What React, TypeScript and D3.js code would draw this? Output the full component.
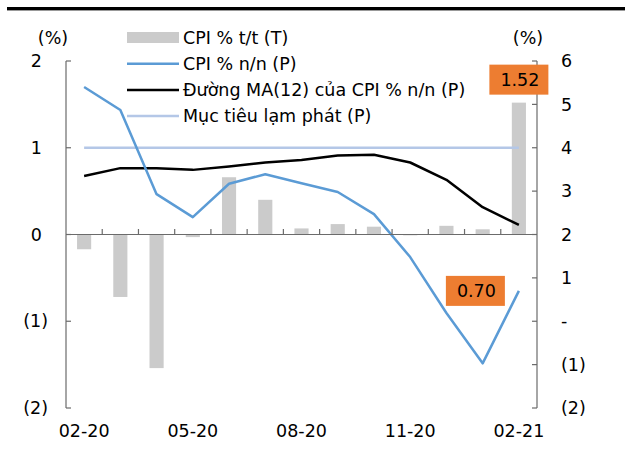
import React from "react";
import * as d3 from "d3";

// Months shown on the category axis
const months = [
  "02-20", "03-20", "04-20", "05-20", "06-20", "07-20", "08-20",
  "09-20", "10-20", "11-20", "12-20", "01-21", "02-21",
];
const tickMonths = ["02-20", "05-20", "08-20", "11-20", "02-21"];

// CPI % month-on-month (left axis, bars)
const cpiMoM = [-0.17, -0.72, -1.54, -0.03, 0.66, 0.4, 0.07, 0.12, 0.09, -0.01, 0.1, 0.06, 1.52];
// CPI % year-on-year (right axis)
const cpiYoY = [5.4, 4.87, 2.93, 2.4, 3.17, 3.39, 3.18, 2.98, 2.47, 1.48, 0.19, -0.97, 0.7];
// 12-month moving average of CPI % y/y (right axis)
const cpiMA12 = [3.35, 3.53, 3.53, 3.49, 3.57, 3.66, 3.72, 3.82, 3.84, 3.66, 3.26, 2.63, 2.22];
// Inflation target (right axis)
const target = 4;

const leftTicks = [2, 1, 0, -1, -2];
const rightTicks = [6, 5, 4, 3, 2, 1, 0, -1, -2];

const legendLabels = [
  "CPI % t/t (T)",
  "CPI % n/n (P)",
  "Đường MA(12) của CPI % n/n (P)",
  "Mục tiêu lạm phát (P)",
];

const FONT = "'DejaVu Sans', Verdana, sans-serif";
const FS = 17.5;
const AXIS = "#6b6b6b";
const BAR = "#cbcbcb";
const BLUE = "#5b9bd5";
const TARGET = "#b4c7e7";
const ORANGE = "#ed7d31";

export default function App() {
  const W = 625;
  const H = 453;
  const left = 66;
  const right = 537;
  const top = 61;
  const bottom = 408;

  const x = d3.scaleBand<string>().domain(months).range([left, right]).padding(0);
  const cx = (m: string) => (x(m) as number) + x.bandwidth() / 2;
  const yL = d3.scaleLinear().domain([-2, 2]).range([bottom, top]);
  const yR = d3.scaleLinear().domain([-2, 6]).range([bottom, top]);
  const barW = x.bandwidth() * 0.39;

  const lineR = d3
    .line<number>()
    .x((_, i) => cx(months[i]))
    .y((d) => yR(d));

  const fmtL = (v: number) => (v < 0 ? `(${-v})` : `${v}`);
  const fmtR = (v: number) => (v === 0 ? "-" : v < 0 ? `(${-v})` : `${v}`);

  const last = months[months.length - 1];
  const lastIdx = months.length - 1;
  const boxW = 59;
  const boxH = 30;

  // label for the last bar, centred above it
  const barLabelX = cx(last) - boxW / 2;
  const barLabelY = yL(cpiMoM[lastIdx]) - 8 - boxH;
  // label for the last y/y point, to its left
  const lineLabelX = cx(last) - 14 - boxW;
  const lineLabelY = yR(cpiYoY[lastIdx]) - boxH / 2;

  const legendX = 127;
  const legendY0 = 37.5;
  const legendStep = 26.2;

  return (
    <div style={{ position: "absolute", left: 0, top: 0 }}>
      <svg width={W} height={H} style={{ display: "block", fontFamily: FONT }}>
        <rect x={0} y={0} width={W} height={H} fill="#fff" />
        {/* top rule */}
        <rect x={7} y={7} width={W - 7} height={3.4} fill="#000" />

        {/* unit labels */}
        <text x={53} y={37.5} dy="0.35em" textAnchor="middle" fontSize={FS}>(%)</text>
        <text x={528} y={37.5} dy="0.35em" textAnchor="middle" fontSize={FS}>(%)</text>

        {/* bars */}
        {cpiMoM.map((v, i) => (
          <rect
            key={months[i]}
            x={cx(months[i]) - barW / 2}
            y={Math.min(yL(v), yL(0))}
            width={barW}
            height={Math.abs(yL(v) - yL(0))}
            fill={BAR}
          />
        ))}

        {/* inflation target */}
        <line
          x1={cx(months[0])}
          x2={cx(last)}
          y1={yR(target)}
          y2={yR(target)}
          stroke={TARGET}
          strokeWidth={2.5}
        />

        {/* MA(12) line */}
        <path d={lineR(cpiMA12) || ""} fill="none" stroke="#000" strokeWidth={2.5} strokeLinejoin="round" />
        {/* y/y line */}
        <path d={lineR(cpiYoY) || ""} fill="none" stroke={BLUE} strokeWidth={2.5} strokeLinejoin="round" />

        {/* left axis */}
        <line x1={left} x2={left} y1={top} y2={bottom} stroke={AXIS} strokeWidth={1.2} />
        {leftTicks.map((t) => (
          <g key={`l${t}`}>
            <line x1={left} x2={left + 5} y1={yL(t)} y2={yL(t)} stroke={AXIS} strokeWidth={1.2} />
            <text
              x={t < 0 ? 48 : 42}
              y={yL(t)}
              dy="0.35em"
              textAnchor="end"
              fontSize={FS}
            >
              {fmtL(t)}
            </text>
          </g>
        ))}

        {/* right axis */}
        <line x1={right} x2={right} y1={top} y2={bottom} stroke={AXIS} strokeWidth={1.2} />
        {rightTicks.map((t) => (
          <g key={`r${t}`}>
            <line x1={right - 5} x2={right} y1={yR(t)} y2={yR(t)} stroke={AXIS} strokeWidth={1.2} />
            <text x={561} y={yR(t)} dy="0.35em" textAnchor="start" fontSize={FS}>
              {fmtR(t)}
            </text>
          </g>
        ))}

        {/* category axis along zero */}
        <line x1={left} x2={right} y1={yL(0)} y2={yL(0)} stroke={AXIS} strokeWidth={1.2} />
        {months.slice(1).map((m) => (
          <line
            key={`t${m}`}
            x1={x(m) as number}
            x2={x(m) as number}
            y1={yL(0)}
            y2={yL(0) - 5.5}
            stroke={AXIS}
            strokeWidth={1.2}
          />
        ))}
        {tickMonths.map((m) => (
          <text key={`x${m}`} x={cx(m)} y={431} dy="0.35em" textAnchor="middle" fontSize={FS}>
            {m}
          </text>
        ))}

        {/* value labels */}
        <rect x={barLabelX} y={barLabelY} width={boxW} height={boxH} fill={ORANGE} />
        <text
          x={barLabelX + boxW - 9}
          y={barLabelY + boxH / 2}
          dy="0.35em"
          textAnchor="end"
          fontSize={FS}
        >
          {cpiMoM[lastIdx].toFixed(2)}
        </text>
        <rect x={lineLabelX} y={lineLabelY} width={boxW} height={boxH} fill={ORANGE} />
        <text
          x={lineLabelX + boxW - 9}
          y={lineLabelY + boxH / 2}
          dy="0.35em"
          textAnchor="end"
          fontSize={FS}
        >
          {cpiYoY[lastIdx].toFixed(2)}
        </text>

        {/* legend */}
        {legendLabels.map((label, i) => {
          const ly = legendY0 + i * legendStep;
          return (
            <g key={label}>
              {i === 0 ? (
                <rect x={legendX} y={ly - 5.5} width={52} height={11} fill={BAR} />
              ) : (
                <line
                  x1={legendX}
                  x2={legendX + 52}
                  y1={ly}
                  y2={ly}
                  stroke={i === 1 ? BLUE : i === 2 ? "#000" : TARGET}
                  strokeWidth={2.5}
                />
              )}
              <text x={183} y={ly} dy="0.35em" fontSize={FS}>
                {label}
              </text>
            </g>
          );
        })}
      </svg>
    </div>
  );
}
